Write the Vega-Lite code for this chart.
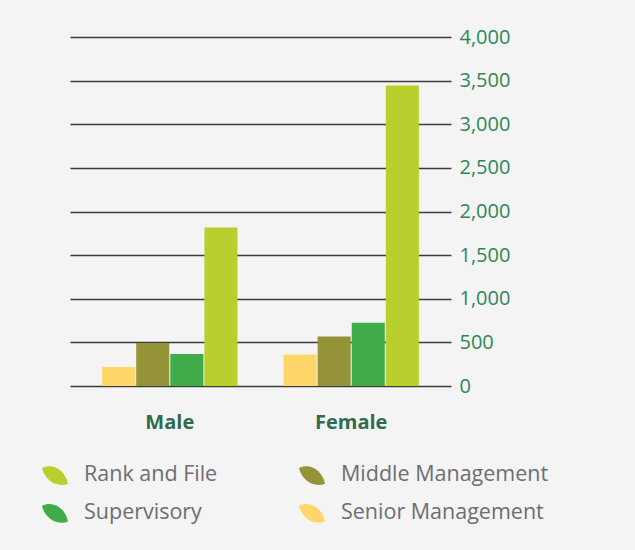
{
  "$schema": "https://vega.github.io/schema/vega-lite/v6.json",
  "width": 381,
  "height": 349,
  "autosize": "none",
  "padding": {"left": 70, "top": 37, "right": 184, "bottom": 164},
  "background": "#f4f4f4",
  "config": {"view": {"stroke": null}, "font": "Open Sans"},
  "data": {
    "values": [
      {"gender": "Male", "level": "Senior Management", "count": 217},
      {"gender": "Male", "level": "Middle Management", "count": 493},
      {"gender": "Male", "level": "Supervisory", "count": 367},
      {"gender": "Male", "level": "Rank and File", "count": 1818},
      {"gender": "Female", "level": "Senior Management", "count": 362},
      {"gender": "Female", "level": "Middle Management", "count": 568},
      {"gender": "Female", "level": "Supervisory", "count": 725},
      {"gender": "Female", "level": "Rank and File", "count": 3443}
    ]
  },
  "mark": {"type": "bar", "opacity": 1},
  "encoding": {
    "x": {
      "field": "gender",
      "type": "nominal",
      "sort": ["Male", "Female"],
      "scale": {"paddingInner": 0.254, "paddingOuter": 0.177},
      "axis": {
        "title": null,
        "orient": "bottom",
        "labelAngle": 0,
        "domain": false,
        "ticks": false,
        "labelFontSize": 20,
        "labelFontWeight": "bold",
        "labelColor": "#2f6b4c",
        "labelPadding": 26
      }
    },
    "xOffset": {
      "field": "level",
      "type": "nominal",
      "sort": ["Senior Management", "Middle Management", "Supervisory", "Rank and File"],
      "scale": {"paddingInner": 0.03}
    },
    "y": {
      "field": "count",
      "type": "quantitative",
      "scale": {"domain": [0, 4000], "nice": false},
      "axis": {
        "title": null,
        "orient": "right",
        "values": [0, 500, 1000, 1500, 2000, 2500, 3000, 3500, 4000],
        "format": ",.0f",
        "grid": true,
        "gridColor": "#3c3c3c",
        "gridWidth": 1.3,
        "domain": false,
        "ticks": false,
        "labelPadding": 8,
        "labelFontSize": 20,
        "labelColor": "#2e8757"
      }
    },
    "color": {
      "field": "level",
      "type": "nominal",
      "scale": {
        "domain": ["Rank and File", "Supervisory", "Middle Management", "Senior Management"],
        "range": ["#b8cf2d", "#40ad4a", "#949337", "#fed66a"]
      },
      "legend": {
        "title": null,
        "orient": "none",
        "legendX": -28,
        "legendY": 425,
        "columns": 2,
        "columnPadding": 81,
        "rowPadding": 14,
        "labelLimit": 400,
        "symbolType": "M-1,-0.55 C-0.2,-1 0.8,-0.4 1,0.65 C0.2,1 -0.8,0.4 -1,-0.55 Z",
        "symbolSize": 676,
        "symbolStrokeWidth": 0,
        "symbolOpacity": 1,
        "labelFontSize": 21.5,
        "labelColor": "#6d6e71",
        "labelOffset": 16
      }
    }
  }
}
